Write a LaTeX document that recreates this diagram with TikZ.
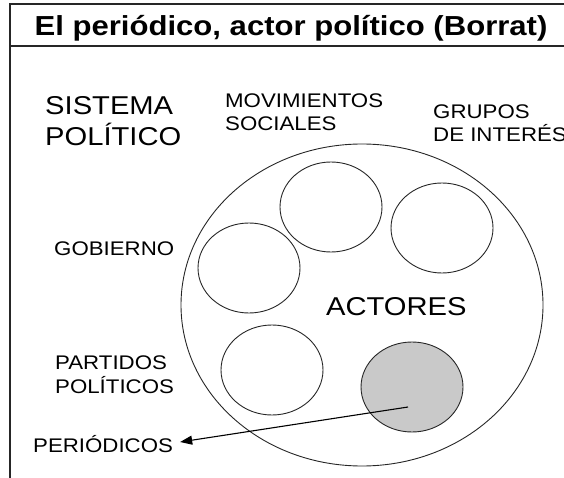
\documentclass[tikz,border=0pt]{standalone}
\usepackage{fontspec}
\setmainfont{Liberation Sans}[FakeStretch=1.13]
\usepackage{tikz}
\usetikzlibrary{shapes, arrows.meta, positioning}

\begin{document}
\begin{tikzpicture}[
    % GLOBAL CFG
    x=1pt, y=-1pt,
    % Styles
    actor/.style={% For the small actor circles
        ellipse,
        draw=black!85,
        line width=0.9pt,
        minimum width=102pt,
        minimum height=90pt,
        inner sep=0pt,
        },
    sistema/.style={% For the big circle
        ellipse,
        draw=black!85,
        line width=0.9pt,
        minimum width=362pt,
        minimum height=322pt,
        inner sep=0pt,
        },
    txt/.style={% For the names around
        inner sep=0pt,
        align=left,
        font=\fontsize{19.7}{23}\selectfont,
        },
    bigtxt/.style={% Bigger names
        inner sep=0pt,
        align=left,
        font=\fontsize{25.8}{31}\selectfont,
        },
    frame/.style={% For the slide frame
        line width=1.2pt,
        draw=black!85,
        },
    ]
    \useasboundingbox (0,0) rectangle (564,478);

    % Draw the frame and the title
    \draw [frame] (10,478) -- (10,4) -- (564,4);
    \draw [frame] (10,46) -- (564,46);
    \node [inner sep=0pt, anchor=base, font=\fontsize{27.5}{30}\selectfont\bfseries]
        (title) at (291,36) {El periódico, actor político (Borrat)};

    % Draw the circles
    \node [sistema] (actores) at (362,305) {};
    \node [actor] (movim) at (331,207) {};
    \node [actor] (grupos) at (442,228) {};
    \node [actor] (gobierno) at (249,268) {};
    \node [actor] (partidos) at (272,370) {};
    \node [actor, fill=black!21] (periodicos) at (412,387) {};

    % Draw the names
    \node [bigtxt, anchor=north west] (sistLbl) at (45,96) {SISTEMA\\POLÍTICO};
    \node [txt, anchor=north west] (movimLbl) at (225,94) {MOVIMIENTOS\\SOCIALES};
    \node [txt, anchor=north west] (gruposLbl) at (433,105) {GRUPOS\\DE INTERÉS};
    \node [txt, anchor=base west] (gobiernoLbl) at (54,255) {GOBIERNO};
    \node [txt, anchor=north west] (partidosLbl) at (55,356) {PARTIDOS\\[1pt]POLÍTICOS};
    \node [txt, anchor=base west] (periodicosLbl) at (33,452) {PERIÓDICOS};
    \node [bigtxt, anchor=base west] (actoresLbl) at (326,315) {ACTORES};

    % Arrow
    \draw [-{Triangle[length=12pt, width=9pt]}, line width=1.1pt]
        ([shift={(-4,20)}]periodicos.center) -- ([shift={(7,-10)}]periodicosLbl.base east);

\end{tikzpicture}
\end{document}
